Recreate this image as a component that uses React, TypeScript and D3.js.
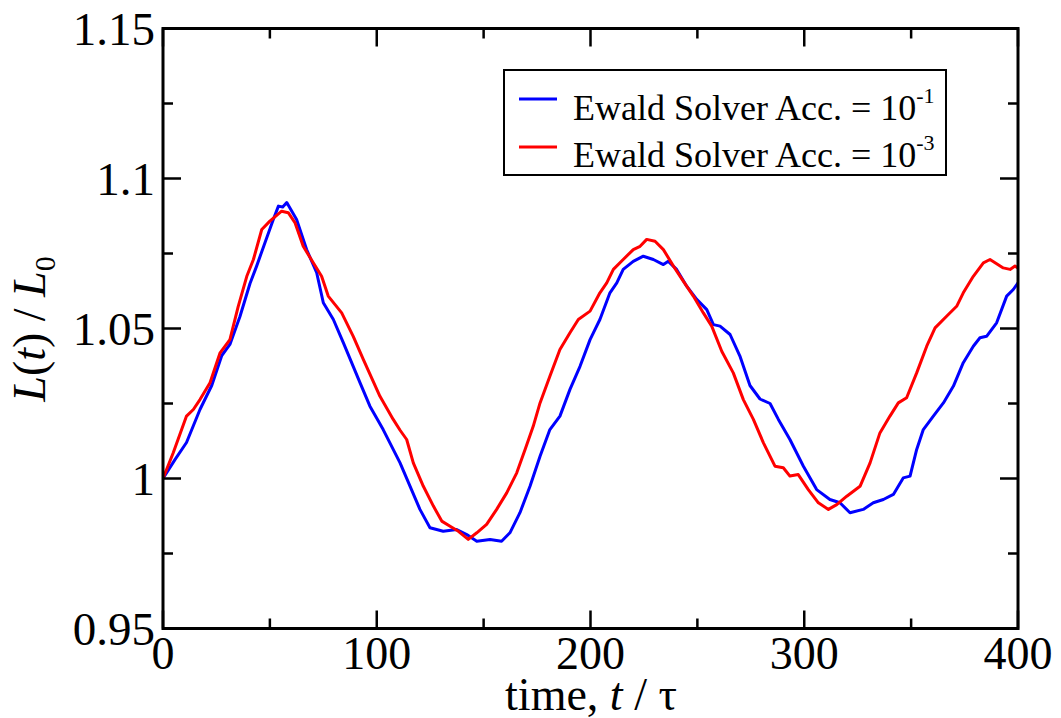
import React from "react";
import * as d3 from "d3";

const blueT = [0,5.6,11,17.3,22.8,27.5,31.3,36,40.7,43.8,47.7,51.6,54,56,57.9,62.5,67.2,71.9,75,79.7,84.4,92.2,96.8,103,110.9,115.6,120.2,124.9,131.1,137.4,142.1,146.8,153,158.4,162.3,167,171.7,176.4,181,185.7,190.4,195.1,199.8,204.4,209.1,212.3,215.3,220,224.7,229.4,234.1,236.4,240.3,245,249.7,254.4,257.5,260.6,265.3,269.9,274.6,279.3,284,287.9,293.3,299.6,305.8,312,316.7,321.4,327.6,332.3,337,341.7,346.3,349.5,352.6,355.7,360.4,365.1,369.8,374.4,379.1,382.2,385.3,390,394.7,397.8,400];
const blueL = [1.0,1.0063,1.012,1.023,1.031,1.041,1.0447,1.054,1.065,1.0708,1.0786,1.0863,1.0908,1.0905,1.092,1.0863,1.0763,1.0686,1.0586,1.053,1.0452,1.0319,1.0241,1.0163,1.0052,0.9974,0.9897,0.9836,0.9824,0.983,0.9813,0.9791,0.9797,0.9791,0.9819,0.9886,0.9974,1.0074,1.0163,1.0208,1.0297,1.0374,1.0463,1.053,1.0619,1.0652,1.0697,1.0724,1.0741,1.073,1.0713,1.0724,1.0697,1.0641,1.0597,1.0563,1.0513,1.0508,1.048,1.0408,1.031,1.0265,1.025,1.0197,1.013,1.0041,0.9963,0.993,0.9919,0.9886,0.9897,0.9919,0.993,0.9947,1.0002,1.0008,1.0097,1.0163,1.0208,1.0252,1.0308,1.0386,1.0441,1.0469,1.0474,1.0519,1.0608,1.063,1.0652];

const redT = [0,4.8,11,14.2,17.3,22,26.7,31.3,35.2,39.2,42.3,46.2,50,55.5,58.6,61.8,65.6,70.3,74.2,77.3,83.6,89,93.7,101.5,107.7,111,114,117.1,121.8,126.5,130.4,134.3,138.2,142.8,146.8,151.4,156.1,160.8,165.5,169.4,173.2,176.4,181,185.7,190.4,194.3,199.8,204.4,207.6,210.7,215.3,220,223.2,226.3,230.2,234.1,238.8,243.4,248.1,252.8,256.7,261.4,266.8,271.5,276.2,280.9,286.3,290.2,293.3,297.2,301.9,306.6,311.3,315.2,319.9,326.1,330.8,335.4,340.1,344,347.9,352.6,357.3,361.2,366.6,371.3,374.4,379.1,383.8,386.9,393.1,396.3,398.6,400];
const redL = [1.0,1.0086,1.0208,1.023,1.0263,1.0319,1.0419,1.0463,1.0574,1.0674,1.073,1.083,1.0858,1.0891,1.0886,1.0852,1.0774,1.0719,1.0674,1.0608,1.0552,1.0474,1.0397,1.0274,1.0197,1.016,1.013,1.0052,0.9974,0.9908,0.9858,0.9841,0.9824,0.9797,0.9819,0.9847,0.9897,0.9952,1.0019,1.0097,1.0174,1.0252,1.0341,1.043,1.0486,1.053,1.0558,1.0619,1.0652,1.0697,1.073,1.0763,1.0774,1.0797,1.0791,1.0763,1.0708,1.0658,1.0608,1.0552,1.0508,1.0424,1.0352,1.0263,1.0197,1.0119,1.0041,1.0036,1.0008,1.0013,0.9963,0.9919,0.9897,0.9913,0.9941,0.9974,1.0052,1.0152,1.0208,1.0252,1.0269,1.0352,1.0441,1.0502,1.0541,1.0574,1.0619,1.0674,1.0719,1.073,1.0702,1.0697,1.0708,1.0702];

const xMajor = [0, 100, 200, 300, 400];
const xMinor = [50, 150, 250, 350];
const yMajor = [0.95, 1.0, 1.05, 1.1, 1.15];
const yMajorLabels = ["0.95", "1", "1.05", "1.1", "1.15"];
const yMinor = [0.975, 1.025, 1.075, 1.125];

const seriesNames = ["Ewald Solver Acc. = 10", "Ewald Solver Acc. = 10"];
const seriesExp = ["-1", "-3"];
const seriesColors = ["#0000ff", "#ff0000"];

const FONT = "'Liberation Serif', 'Times New Roman', serif";

export default function App() {
  const left = 163, right = 1018, top = 28.5, bottom = 628.5;
  const x = d3.scaleLinear().domain([0, 400]).range([left, right]);
  const y = d3.scaleLinear().domain([0.95, 1.15]).range([bottom, top]);
  const line = d3
    .line<number>()
    .x((d) => d)
    .y((d) => d);

  const mk = (ts: number[], ls: number[]) =>
    d3
      .line<number>()
      .x((_, i) => x(ts[i]))
      .y((_, i) => y(ls[i]))(ts) || "";

  const majLen = 18, minLen = 10;
  const tickStyle = { stroke: "#000", strokeWidth: 2.5 };
  void line;

  return (
    <svg
      width={1061}
      height={718}
      style={{ position: "absolute", left: 0, top: 0, background: "#fff" }}
      fontFamily={FONT}
    >
      <rect x={0} y={0} width={1061} height={718} fill="#fff" />
      {/* curves */}
      <defs>
        <clipPath id="plotclip">
          <rect x={left} y={top} width={right - left} height={bottom - top} />
        </clipPath>
      </defs>
      <g clipPath="url(#plotclip)">
        <path d={mk(blueT, blueL)} fill="none" stroke={seriesColors[0]} strokeWidth={3} strokeLinejoin="round" />
        <path d={mk(redT, redL)} fill="none" stroke={seriesColors[1]} strokeWidth={3} strokeLinejoin="round" />
      </g>
      {/* ticks */}
      {xMajor.map((v) => (
        <g key={"xm" + v}>
          <line x1={x(v)} x2={x(v)} y1={bottom} y2={bottom - majLen} {...tickStyle} />
          <line x1={x(v)} x2={x(v)} y1={top} y2={top + majLen} {...tickStyle} />
          <text x={x(v)} y={669} textAnchor="middle" fontSize={46}>
            {v}
          </text>
        </g>
      ))}
      {xMinor.map((v) => (
        <g key={"xn" + v}>
          <line x1={x(v)} x2={x(v)} y1={bottom} y2={bottom - minLen} {...tickStyle} />
          <line x1={x(v)} x2={x(v)} y1={top} y2={top + minLen} {...tickStyle} />
        </g>
      ))}
      {yMajor.map((v, i) => (
        <g key={"ym" + v}>
          <line x1={left} x2={left + majLen} y1={y(v)} y2={y(v)} {...tickStyle} />
          <line x1={right} x2={right - majLen} y1={y(v)} y2={y(v)} {...tickStyle} />
          <text x={155} y={y(v) + 16} textAnchor="end" fontSize={47}>
            {yMajorLabels[i]}
          </text>
        </g>
      ))}
      {yMinor.map((v) => (
        <g key={"yn" + v}>
          <line x1={left} x2={left + minLen} y1={y(v)} y2={y(v)} {...tickStyle} />
          <line x1={right} x2={right - minLen} y1={y(v)} y2={y(v)} {...tickStyle} />
        </g>
      ))}
      {/* frame */}
      <rect x={left} y={top} width={right - left} height={bottom - top} fill="none" stroke="#000" strokeWidth={3} />
      {/* axis titles */}
      <text x={591} y={710} textAnchor="middle" fontSize={46}>
        time, <tspan fontStyle="italic">t</tspan> / τ
      </text>
      <text transform="translate(45,329) rotate(-90)" textAnchor="middle" fontSize={46}>
        <tspan fontStyle="italic">L</tspan>(<tspan fontStyle="italic">t</tspan>) / <tspan fontStyle="italic">L</tspan>
        <tspan fontSize={30} dy={10}>0</tspan>
      </text>
      {/* legend */}
      <rect x={504} y={70} width={442} height={105} fill="#fff" stroke="#000" strokeWidth={2} />
      {seriesNames.map((nm, i) => (
        <g key={"lg" + i}>
          <line x1={519} x2={557} y1={99 + i * 48} y2={99 + i * 48} stroke={seriesColors[i]} strokeWidth={3} />
          <text x={573} y={120 + i * 47} fontSize={36}>
            {nm}
            <tspan fontSize={22} dy={-17}>{seriesExp[i]}</tspan>
          </text>
        </g>
      ))}
    </svg>
  );
}
